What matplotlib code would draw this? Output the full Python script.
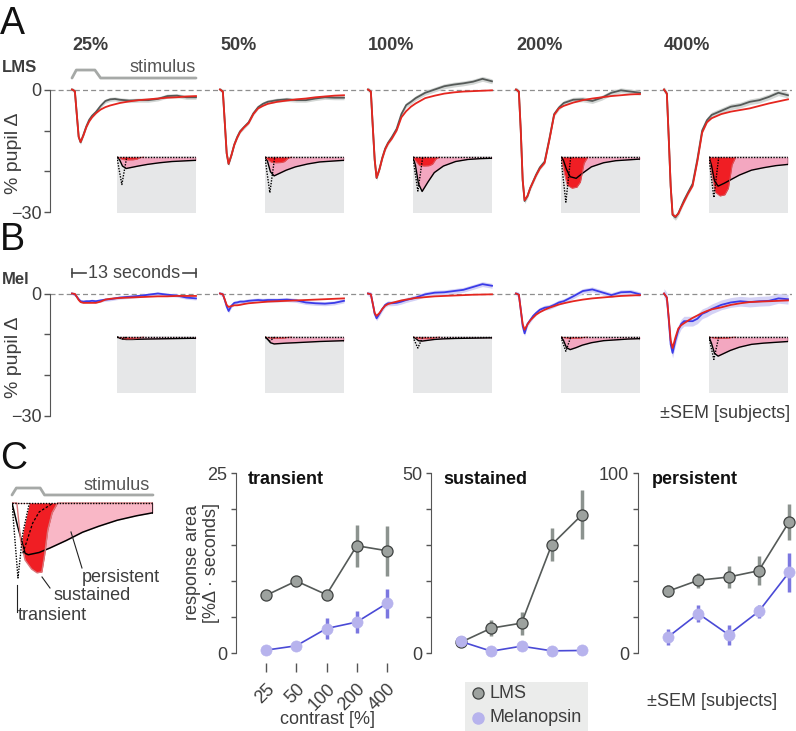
import matplotlib
matplotlib.use('Agg')
import matplotlib.pyplot as plt
import numpy as np

plt.rcParams['font.family'] = ['Liberation Sans', 'DejaVu Sans']
plt.rcParams['font.size'] = 13

# ---------------- data ----------------
contrasts = ['25%', '50%', '100%', '200%', '400%']
T = [0, 0.3, 0.5, 0.7, 0.9, 1.2, 1.5, 1.8, 2.1, 2.5, 3.0, 3.5, 4.0, 4.5, 5, 6, 7, 8, 9, 10, 11, 12, 13]

lms_fit_25 = [0, -0.4, -6.0, -11.5, -12.8, -11.2, -9.2, -7.8, -6.8, -5.8, -4.9, -4.3, -3.9, -3.6, -3.3, -2.9, -2.6, -2.4, -2.2, -2.0, -1.9, -1.7, -1.6]
lms_data_25 = [0, -0.4, -6.0, -11.6, -12.9, -11.0, -9.0, -7.4, -6.4, -5.5, -4.0, -2.8, -2.4, -2.3, -2.5, -2.7, -2.6, -2.6, -2.3, -1.6, -1.5, -1.9, -1.9]
lms_fit_50 = [0, -0.5, -8.0, -15.5, -18.1, -16.0, -13.5, -11.8, -10.4, -9.3, -8.2, -6.0, -4.6, -4.0, -3.5, -3.0, -2.7, -2.4, -2.2, -1.9, -1.7, -1.5, -1.4]
lms_data_50 = [0, -0.5, -8.0, -15.6, -18.2, -16.0, -13.4, -11.6, -10.2, -9.2, -8.0, -5.8, -4.3, -3.5, -3.0, -2.6, -2.4, -2.6, -2.6, -2.2, -1.9, -2.0, -2.0]
lms_fit_100 = [0, -0.5, -9.0, -17.0, -21.5, -19.5, -16.8, -14.6, -13.2, -12.0, -10.0, -6.8, -5.3, -4.2, -3.4, -2.1, -1.5, -1.0, -0.7, -0.5, -0.4, -0.3, -0.2]
lms_data_100 = [0, -0.5, -9.0, -17.2, -21.6, -19.4, -16.6, -14.4, -13.0, -11.6, -9.6, -6.0, -3.8, -3.0, -2.1, -0.8, 0.0, 0.8, 1.2, 1.5, 1.9, 2.6, 2.0]
lms_fit_200 = [0, -0.5, -10.0, -22.0, -27.0, -26.0, -24.0, -22.5, -21.0, -19.3, -17.9, -12.3, -6.2, -4.6, -4.0, -3.2, -2.6, -2.2, -1.9, -1.6, -1.4, -1.2, -1.1]
lms_data_200 = [0, -0.5, -10.0, -22.2, -27.2, -26.0, -24.0, -22.4, -20.8, -19.0, -17.6, -12.0, -6.0, -4.4, -3.3, -2.5, -2.4, -2.8, -2.0, -0.8, -0.2, -0.5, -0.8]
lms_fit_400 = [0, -1.0, -12.0, -23.5, -30.5, -31.0, -30.3, -28.8, -27.4, -25.5, -23.5, -17.5, -10.5, -8.0, -7.0, -6.0, -5.4, -5.0, -4.6, -4.0, -3.4, -2.9, -2.4]
lms_data_400 = [0, -1.0, -12.0, -23.6, -30.6, -31.2, -30.2, -28.6, -27.0, -25.2, -23.0, -17.0, -10.0, -7.5, -6.2, -5.2, -4.2, -3.8, -3.0, -2.6, -1.8, -0.8, -1.4]

mel_fit_25 = [0, -0.1, -0.8, -1.6, -2.1, -2.3, -2.3, -2.3, -2.3, -2.3, -2.0, -1.5, -1.3, -1.2, -1.1, -1.0, -0.9, -0.8, -0.7, -0.7, -0.6, -0.6, -0.6]
mel_data_25 = [0, -0.2, -0.8, -1.4, -1.9, -2.0, -1.9, -1.9, -1.8, -1.9, -1.7, -1.5, -1.4, -1.2, -1.0, -0.8, -0.6, -0.3, 0.0, -0.3, -0.5, -1.0, -1.2]
mel_fit_50 = [0, -0.2, -1.5, -2.8, -3.3, -3.1, -2.9, -2.9, -2.8, -2.6, -2.4, -2.3, -2.2, -2.1, -2.0, -1.9, -1.8, -1.7, -1.6, -1.5, -1.4, -1.3, -1.2]
mel_data_50 = [0, -0.2, -1.6, -3.2, -4.3, -3.0, -2.3, -2.2, -2.0, -2.0, -1.8, -1.7, -1.6, -1.7, -1.6, -1.6, -1.5, -1.7, -2.2, -2.4, -2.5, -2.3, -1.8]
mel_fit_100 = [0, -0.2, -2.5, -4.8, -5.5, -4.8, -3.8, -3.0, -2.6, -2.3, -2.0, -1.7, -1.5, -1.3, -1.1, -0.9, -0.7, -0.6, -0.5, -0.4, -0.3, -0.25, -0.2]
mel_data_100 = [0, -0.2, -2.5, -5.0, -6.1, -5.0, -3.8, -2.8, -2.4, -2.4, -2.3, -2.0, -1.6, -1.3, -1.0, -0.2, 0.2, 0.3, 0.6, 0.9, 1.6, 2.3, 1.9]
mel_fit_200 = [0, -0.3, -4.0, -7.5, -8.9, -7.6, -6.6, -5.9, -5.2, -4.6, -4.0, -3.5, -3.1, -2.7, -2.4, -1.9, -1.5, -1.2, -1.0, -0.8, -0.6, -0.5, -0.4]
mel_data_200 = [0, -0.3, -4.0, -8.0, -9.8, -7.5, -6.5, -5.5, -4.8, -4.0, -3.5, -3.3, -2.8, -2.2, -1.9, -0.7, 0.6, 1.0, 0.3, -0.4, 0.3, 0.4, -0.2]
mel_fit_400 = [0, -1.0, -6.0, -11.5, -13.4, -10.8, -8.6, -7.8, -7.3, -6.7, -6.0, -5.4, -4.8, -4.3, -3.9, -3.4, -2.8, -2.4, -2.1, -2.0, -1.9, -1.8, -1.7]
mel_data_400 = [0, -1.0, -6.5, -12.5, -14.6, -11.5, -9.0, -7.5, -6.8, -6.8, -6.8, -6.2, -5.0, -4.5, -3.8, -2.8, -2.2, -1.9, -2.1, -1.9, -1.8, -1.2, -1.4]

lms_sem = [0.5, 0.5, 0.6, 0.6, 0.7]
mel_sem = [0.4, 0.5, 0.6, 0.6, 1.2]

stim_t = [0, 0.45, 2.4, 3.0, 13]
stim_v = [2.8, 4.75, 4.75, 2.8, 2.8]

# inset components (model decomposition)
Tt = [0, 0.3, 0.8, 1.6]
transient_shape = [0, 0.4, 1.0, 0]
Ts = [0, 0.4, 1.0, 1.8, 2.6, 3.2, 3.8, 4.4]
sustained_shape = [0, 0.4, 0.9, 1.0, 0.97, 0.8, 0.2, 0]
lms_transient_amp = [6.7, 8.7, 8.3, 11.0, 9.9]
lms_sustained_amp = [0.7, 1.4, 2.2, 7.6, 9.5]
mel_transient_amp = [0.5, 1.0, 2.7, 3.5, 5.5]
mel_sustained_amp = [0.5, 0.3, 0.4, 0.3, 0.3]
Tp = [0, 0.4, 0.9, 1.5, 2.5, 3.5, 5, 7, 9, 11, 13]
lms_pers_25 = [0, -0.6, -2.2, -2.8, -2.5, -2.2, -1.8, -1.4, -1.1, -0.95, -0.8]
lms_pers_50 = [0, -1.0, -3.6, -4.6, -3.9, -3.2, -2.4, -1.7, -1.2, -1.0, -0.8]
lms_pers_100 = [0, -2.0, -6.5, -8.4, -6.0, -3.8, -2.2, -1.1, -0.6, -0.4, -0.3]
lms_pers_200 = [0, -0.8, -3.0, -4.8, -5.2, -4.0, -2.4, -1.4, -0.9, -0.7, -0.5]
lms_pers_400 = [0, -2.0, -5.8, -7.1, -6.4, -5.6, -4.4, -3.2, -2.6, -2.1, -1.8]
mel_pers_25 = [0, -0.2, -0.5, -0.6, -0.6, -0.55, -0.5, -0.45, -0.4, -0.35, -0.3]
mel_pers_50 = [0, -0.5, -1.4, -1.7, -1.6, -1.5, -1.4, -1.25, -1.1, -1.0, -0.9]
mel_pers_100 = [0, -0.3, -0.9, -1.0, -0.8, -0.6, -0.45, -0.35, -0.3, -0.25, -0.2]
mel_pers_200 = [0, -0.8, -2.6, -3.1, -2.6, -2.0, -1.4, -0.9, -0.7, -0.5, -0.4]
mel_pers_400 = [0, -1.5, -4.0, -4.7, -4.0, -3.3, -2.5, -1.8, -1.5, -1.3, -1.1]

# cartoon (panel C, left)
cart_stim_t = [0, 0.4, 2.6, 3.0, 13]
cart_stim_v = [1.07, 2.0, 2.0, 1.07, 1.07]
cart_trans_t = [0, 0.55, 1.0, 1.6]
cart_trans_v = [0, -10.0, -4.0, 0]
cart_sust_t = [0, 0.45, 0.8, 1.2, 1.8, 2.3, 2.75, 3.0, 3.3, 3.7, 4.2, 13]
cart_sust_v = [0, 0, -5.0, -7.6, -8.8, -9.3, -9.2, -7.0, -3.6, -1.3, 0, 0]
cart_pers_t = [0, 0.5, 1.2, 1.5, 2.5, 3.5, 5, 6.5, 8, 9.7, 11.5, 13]
cart_pers_v = [0, -3.0, -6.7, -6.9, -6.6, -6.0, -5.0, -3.9, -3.1, -2.3, -1.7, -1.3]
cart_dash_t = [1.0, 1.5, 1.9, 2.5, 3.8]
cart_dash_v = [-6.7, -4.5, -2.7, -1.2, 0]

# panel C summaries
contrast_labels = ['25', '50', '100', '200', '400']
lms_transient = [8.0, 10.0, 8.1, 14.9, 14.2]
lms_transient_err = [0.4, 0.4, 0.4, 2.9, 3.5]
mel_transient = [0.4, 1.0, 3.4, 4.3, 6.9]
mel_transient_err = [0.2, 0.3, 1.4, 1.5, 2.0]
lms_sustained = [3.0, 6.9, 8.3, 30.1, 38.4]
lms_sustained_err = [0.5, 2.2, 3.2, 4.5, 6.8]
mel_sustained = [3.2, 0.5, 1.9, 0.6, 0.7]
mel_sustained_err = [0.3, 0.3, 0.3, 0.3, 0.3]
lms_persistent = [34.3, 40.4, 42.2, 45.7, 72.8]
lms_persistent_err = [3.4, 4.2, 6.0, 8.0, 10.0]
mel_persistent = [8.9, 21.9, 10.2, 23.1, 44.8]
mel_persistent_err = [4.4, 4.5, 5.6, 3.6, 11.0]

# ---------------- style ----------------
W, H = 796, 731
fig = plt.figure(figsize=(W / 100, H / 100), dpi=100)

TXT = '#3d3d3d'
AX = '#555555'
RED = '#e5261f'
LMS_LINE = '#555a58'
LMS_BAND = '#d3d7d5'
MEL_LINE = '#3b3be8'
MEL_BAND = '#d4d2f6'
INSET_BG = '#e6e7e8'
PINK = '#f3a7c0'
SRED = '#f01e24'


def px_axes(x0, y0, x1, y1):
    return fig.add_axes([x0 / W, 1 - y1 / H, (x1 - x0) / W, (y1 - y0) / H])


def ftext(x, y, s, **kw):
    kw.setdefault('color', TXT)
    return fig.text(x / W, 1 - y / H, s, **kw)


px_per_s = 124 / 13.0
gap = 148 / px_per_s

lms_fits = [lms_fit_25, lms_fit_50, lms_fit_100, lms_fit_200, lms_fit_400]
lms_datas = [lms_data_25, lms_data_50, lms_data_100, lms_data_200, lms_data_400]
mel_fits = [mel_fit_25, mel_fit_50, mel_fit_100, mel_fit_200, mel_fit_400]
mel_datas = [mel_data_25, mel_data_50, mel_data_100, mel_data_200, mel_data_400]
lms_pers = [lms_pers_25, lms_pers_50, lms_pers_100, lms_pers_200, lms_pers_400]
mel_pers = [mel_pers_25, mel_pers_50, mel_pers_100, mel_pers_200, mel_pers_400]


def draw_row(ytop_px, zero_px, pxper, fits, datas, sems, line_col, band_col,
             tamps, samps, pers, inset_top_px):
    bottom_px = zero_px + 33 * pxper
    ax = px_axes(50, ytop_px, 792, bottom_px)
    ax.set_xlim((50 - 72) / px_per_s, (792 - 72) / px_per_s)
    ax.set_ylim(-(bottom_px - zero_px) / pxper, (zero_px - ytop_px) / pxper)
    ax.patch.set_alpha(0)
    for s in ['top', 'right', 'bottom']:
        ax.spines[s].set_visible(False)
    ax.spines['left'].set_bounds(-30, 0)
    ax.spines['left'].set_color(AX)
    ax.set_yticks([0, -10, -20, -30])
    ax.set_yticklabels(['0', '', '', '\u221230'])
    ax.tick_params(axis='y', direction='out', length=4, width=1, colors=AX,
                   labelcolor=TXT, labelsize=13, pad=2)
    ax.set_xticks([])
    ax.axhline(0, color='#8e8e8e', lw=0.9, ls=(0, (4, 2.5)), zorder=1)
    Ta = np.array(T)
    for i in range(5):
        x = Ta + i * gap
        d = np.array(datas[i])
        ax.fill_between(x, d - sems[i], d + sems[i], color=band_col, lw=0, zorder=2)
        ax.plot(x, d, color=line_col, lw=1.3, zorder=3)
        ax.plot(x, fits[i], color=RED, lw=1.3, zorder=4)
        # inset
        x0 = 72 + 148 * i + 45
        ia = px_axes(x0, inset_top_px, x0 + 79, inset_top_px + 57)
        ia.set_facecolor(INSET_BG)
        for s in ia.spines.values():
            s.set_visible(False)
        ia.set_xticks([]); ia.set_yticks([])
        ia.set_xlim(0, 13)
        ia.set_ylim(-57 / pxper + 0.25, 0.25)
        ia.fill_between(Tp, pers[i], 0, color=PINK, lw=0)
        ia.plot(Tp, pers[i], color='k', lw=1.0)
        ia.plot([13, 13], [0, pers[i][-1]], color='k', lw=1.0)
        sv = np.array(sustained_shape) * -samps[i]
        ia.fill_between(Ts, sv, 0, color=SRED, lw=0)
        ia.plot(Ts, sv, color='#d85a60', lw=0.6)
        tv = np.array(transient_shape) * -tamps[i]
        ia.plot(Tt, tv, color='k', lw=1.0, ls=(0, (1, 1)))
        ia.plot([0, 13], [0, 0], color='k', lw=1.0, ls=(0, (1, 1)))
    return ax


axA = draw_row(60, 89.5, 4.1, lms_fits, lms_datas, lms_sem, LMS_LINE, LMS_BAND,
               lms_transient_amp, lms_sustained_amp, lms_pers, 156)
axA.plot(stim_t, stim_v, color='#a6a9a7', lw=2, solid_capstyle='round', zorder=3)

axB = draw_row(262, 293.5, 4.07, mel_fits, mel_datas, mel_sem, MEL_LINE, MEL_BAND,
               mel_transient_amp, mel_sustained_amp, mel_pers, 336)
# 13 seconds scale bar
yb = (293.5 - 273) / 4.07
axB.plot([0, 1.5], [yb, yb], color='#444', lw=1.2)
axB.plot([11.6, 13], [yb, yb], color='#444', lw=1.2)
axB.plot([0, 0], [yb - 1, yb + 1], color='#444', lw=1.2)
axB.plot([13, 13], [yb - 1, yb + 1], color='#444', lw=1.2)

# texts rows A/B
ftext(0, 24, 'A', fontsize=27, va='center', ha='left', color='#111')
ftext(0, 240, 'B', fontsize=27, va='center', ha='left', color='#111')
ftext(0, 459, 'C', fontsize=27, va='center', ha='left', color='#111')
for i, c in enumerate(contrasts):
    ftext(72 + 148 * i, 46, c, fontsize=13, fontweight='bold', va='center', ha='left')
ftext(2, 67, 'LMS', fontsize=12, fontweight='bold', va='center', ha='left')
ftext(2, 279, 'Mel', fontsize=12, fontweight='bold', va='center', ha='left')
ftext(196, 67, 'stimulus', fontsize=13, va='center', ha='right', color='#555')
ftext(134, 273, '13 seconds', fontsize=13, va='center', ha='center', color='#444')
ftext(14, 153, '% pupil \u0394', fontsize=14, rotation=90, va='center', ha='center')
ftext(14, 357, '% pupil \u0394', fontsize=14, rotation=90, va='center', ha='center')
ftext(790, 413, '\u00b1SEM [subjects]', fontsize=13, va='center', ha='right')

# ---------------- panel C cartoon ----------------
cz = 503
cpx = 7.5
axc = px_axes(12, 478, 153, 625)
axc.set_xlim(0, 13)
axc.set_ylim(-(625 - cz) / cpx, (cz - 478) / cpx)
axc.axis('off')
axc.plot(cart_stim_t, cart_stim_v, color='#a6a9a7', lw=2, solid_capstyle='round', clip_on=False)
axc.fill_between(cart_pers_t, cart_pers_v, 0, color='#f9b7c6', lw=0)
axc.plot(cart_pers_t, cart_pers_v, color='k', lw=1.1)
axc.plot([13, 13], [0, cart_pers_v[-1]], color='k', lw=1.1)
axc.fill_between(cart_sust_t, cart_sust_v, 0, color=SRED, lw=0)
axc.plot(cart_sust_t, cart_sust_v, color='#d9777b', lw=1.0)
axc.fill_between(cart_trans_t, cart_trans_v, 0, color='white', lw=0)
axc.plot(cart_trans_t, cart_trans_v, color='k', lw=1.0, ls=(0, (1, 1)))
axc.plot(cart_dash_t, cart_dash_v, color='k', lw=0.9, ls=(0, (2, 1.5)))
axc.plot([0, 13], [0, 0], color='k', lw=1.0, ls=(0, (1, 1)))
ftext(150, 486, 'stimulus', fontsize=13, va='center', ha='right', color='#555')
# label pointers
def cp(x, y):
    return (x - 12) / 10.85, (cz - y) / cpx
for (xa, ya, xb, yb2) in [(71, 532, 82, 568), (42, 577, 50, 588), (17, 585, 17, 612)]:
    p1 = cp(xa, ya); p2 = cp(xb, yb2)
    axc.plot([p1[0], p2[0]], [p1[1], p2[1]], color='#222', lw=0.8, clip_on=False)
ftext(82, 577, 'persistent', fontsize=13, va='center', ha='left')
ftext(53, 596, 'sustained', fontsize=13, va='center', ha='left')
ftext(18, 615, 'transient', fontsize=13, va='center', ha='left')

# ---------------- panel C summaries ----------------
LMS_FACE = '#9da29f'
LMS_EDGE = '#3f4241'
LMS_ERR = '#8c938f'
MEL_FACE = '#b7b3ed'
MEL_ERR = '#7b77e0'
MEL_LINE2 = '#4a4ad6'

specs = [
    (236, 400, 25, 'transient', 248, lms_transient, lms_transient_err, mel_transient, mel_transient_err),
    (431, 595, 50, 'sustained', 443, lms_sustained, lms_sustained_err, mel_sustained, mel_sustained_err),
    (638, 796, 100, 'persistent', 652, lms_persistent, lms_persistent_err, mel_persistent, mel_persistent_err),
]
xs = np.arange(5)
for k, (xl, xr, ymax, title, tx, lv, le, mv, me) in enumerate(specs):
    ax = px_axes(xl, 465, xr, 663)
    per = ymax / 180.0
    ax.set_ylim(-(663 - 653) * per, (653 - 465) * per)
    ax.set_xlim(-30 / 30.25, (xr - (xl + 30)) / 30.25)
    ax.patch.set_alpha(0)
    for s in ['top', 'right', 'bottom']:
        ax.spines[s].set_visible(False)
    ax.spines['left'].set_bounds(0, ymax)
    ax.spines['left'].set_color(AX)
    ax.set_yticks(np.linspace(0, ymax, 6))
    ax.set_yticklabels(['0', '', '', '', '', str(ymax)])
    ax.tick_params(axis='y', direction='out', length=3.5, width=1, colors=AX,
                   labelcolor=TXT, labelsize=13, pad=3)
    if k == 0:
        ax.set_xticks(xs)
        ax.set_xticklabels(contrast_labels, rotation=45, ha='right', va='top',
                           rotation_mode='anchor')
        ax.tick_params(axis='x', direction='out', length=6.5, width=1, colors=AX,
                       labelcolor=TXT, labelsize=13, pad=6)
    else:
        ax.set_xticks([])
    ax.errorbar(xs, lv, yerr=le, fmt='none', ecolor=LMS_ERR, elinewidth=2.5, capsize=0, zorder=1)
    ax.plot(xs, lv, color=LMS_LINE, lw=1.2, zorder=2)
    ax.plot(xs, lv, 'o', ms=8, mfc=LMS_FACE, mec=LMS_EDGE, mew=0.9, zorder=3, clip_on=False)
    ax.errorbar(xs, mv, yerr=me, fmt='none', ecolor=MEL_ERR, elinewidth=2.5, capsize=0, zorder=4)
    ax.plot(xs, mv, color=MEL_LINE2, lw=1.2, zorder=5)
    ax.plot(xs, mv, 'o', ms=8, mfc=MEL_FACE, mec=MEL_FACE, mew=0.5, zorder=6, clip_on=False)
    ftext(tx, 480, title, fontsize=13, fontweight='bold', va='center', ha='left', color='#111')

ftext(202, 563, 'response area\n[%\u0394 \u00b7 seconds]', fontsize=13, rotation=90,
      va='center', ha='center', linespacing=1.15)
ftext(328, 719, 'contrast [%]', fontsize=13, va='center', ha='center')

# legend
axl = px_axes(465, 682, 588, 731)
axl.set_facecolor('#ebeceb')
axl.set_xlim(0, 123); axl.set_ylim(49, 0)
axl.set_xticks([]); axl.set_yticks([])
for s in axl.spines.values():
    s.set_visible(False)
axl.plot([13], [11], 'o', ms=8, mfc=LMS_FACE, mec=LMS_EDGE, mew=0.9)
axl.plot([13], [36], 'o', ms=8, mfc=MEL_FACE, mec=MEL_FACE)
axl.text(25, 11, 'LMS', fontsize=13, va='center', ha='left', color=TXT)
axl.text(25, 36, 'Melanopsin', fontsize=13, va='center', ha='left', color=TXT)

ftext(647, 702, '\u00b1SEM [subjects]', fontsize=13, va='center', ha='left')

fig.savefig('out.png', dpi=100)
